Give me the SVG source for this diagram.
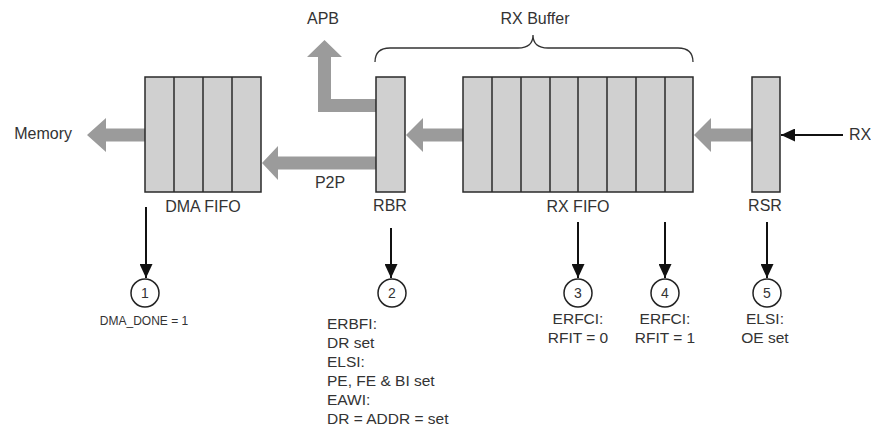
<svg xmlns="http://www.w3.org/2000/svg" width="871" height="429" viewBox="0 0 871 429">
<defs>
<style>
.box{fill:#d0d0d0;stroke:#2a2a2a;stroke-width:1.5}
.div{stroke:#2a2a2a;stroke-width:1.5}
.fat{fill:#9b9b9b}
.t{font-family:"Liberation Sans",Arial,sans-serif;font-size:16px;fill:#333}
.c{text-anchor:middle}
.b{font-family:"Liberation Sans",Arial,sans-serif;font-size:15.5px;fill:#333}
.num{font-family:"Liberation Sans",Arial,sans-serif;font-size:14px;fill:#333;text-anchor:middle}
.small{font-family:"Liberation Sans",Arial,sans-serif;font-size:12px;fill:#333;text-anchor:middle}
.thin{stroke:#111;stroke-width:2;fill:none}
.circ{fill:#fff;stroke:#222;stroke-width:1.5}
</style>
<marker id="ah" markerWidth="14" markerHeight="13" refX="14" refY="6.5" orient="auto" markerUnits="userSpaceOnUse">
<path d="M0,0 L14,6.5 L0,13 Z" fill="#111"/>
</marker>
</defs>
<rect width="871" height="429" fill="#fff"/>

<g id="connectors">
<!-- fat grey data arrows -->
<path class="fat" d="M87,135 L106,118 L106,128.5 L145,128.5 L145,141.5 L106,141.5 L106,152 Z"/>
<path class="fat" d="M262,163 L278,146 L278,156.5 L376,156.5 L376,169.5 L278,169.5 L278,180 Z"/>
<path class="fat" d="M406,135 L423,118 L423,128.5 L463,128.5 L463,141.5 L423,141.5 L423,152 Z"/>
<path class="fat" d="M694,135 L711,118 L711,128.5 L752,128.5 L752,141.5 L711,141.5 L711,152 Z"/>
<path class="fat" d="M324.5,40 L342,57 L331,57 L331,99 L376,99 L376,112 L318,112 L318,57 L307,57 Z"/>
<!-- RX input -->
<line class="thin" x1="843" y1="135" x2="781" y2="135" marker-end="url(#ah)"/>
<!-- interrupt arrows -->
<line class="thin" x1="146" y1="207" x2="146" y2="278" marker-end="url(#ah)"/>
<line class="thin" x1="391" y1="228" x2="391" y2="278" marker-end="url(#ah)"/>
<line class="thin" x1="578" y1="222" x2="578" y2="278" marker-end="url(#ah)"/>
<line class="thin" x1="665" y1="222" x2="665" y2="278" marker-end="url(#ah)"/>
<line class="thin" x1="767" y1="222" x2="767" y2="278" marker-end="url(#ah)"/>
</g>

<g id="rx-buffer-brace">
<path d="M375,62 Q375,48 390,48 L518,48 Q533,48 533,35 Q533,48 548,48 L678,48 Q693,48 693,62" fill="none" stroke="#333" stroke-width="1.3"/>
<text class="t c" x="535" y="24">RX Buffer</text>
</g>

<g id="apb"><text class="t c" x="323" y="24">APB</text></g>
<g id="memory"><text class="t" x="72" y="139" text-anchor="end">Memory</text></g>
<g id="p2p"><text class="t c" x="330" y="188">P2P</text></g>
<g id="rx"><text class="t" x="849" y="140">RX</text></g>

<g id="dma-fifo">
<rect class="box" x="145" y="77" width="116" height="115"/>
<line class="div" x1="174" y1="77" x2="174" y2="192"/>
<line class="div" x1="203" y1="77" x2="203" y2="192"/>
<line class="div" x1="232" y1="77" x2="232" y2="192"/>
<text class="t c" x="203" y="212">DMA FIFO</text>
</g>

<g id="rbr">
<rect class="box" x="376" y="77" width="29" height="115"/>
<text class="t c" x="390" y="211">RBR</text>
</g>

<g id="rx-fifo">
<rect class="box" x="463" y="77" width="230" height="115"/>
<line class="div" x1="492" y1="77" x2="492" y2="192"/>
<line class="div" x1="521" y1="77" x2="521" y2="192"/>
<line class="div" x1="550" y1="77" x2="550" y2="192"/>
<line class="div" x1="578" y1="77" x2="578" y2="192"/>
<line class="div" x1="607" y1="77" x2="607" y2="192"/>
<line class="div" x1="636" y1="77" x2="636" y2="192"/>
<line class="div" x1="665" y1="77" x2="665" y2="192"/>
<text class="t c" x="578" y="212">RX FIFO</text>
</g>

<g id="rsr">
<rect class="box" x="752" y="77" width="28" height="115"/>
<text class="t c" x="765" y="211">RSR</text>
</g>

<g id="event-1">
<circle class="circ" cx="145" cy="293" r="14"/>
<text class="num" x="145" y="298">1</text>
<text class="small" x="144" y="325">DMA_DONE = 1</text>
</g>

<g id="event-2">
<circle class="circ" cx="392" cy="293" r="14"/>
<text class="num" x="392" y="298">2</text>
<text class="b" x="327" y="329">ERBFI:</text>
<text class="b" x="327" y="348">DR set</text>
<text class="b" x="327" y="367">ELSI:</text>
<text class="b" x="327" y="386">PE, FE &amp; BI set</text>
<text class="b" x="327" y="405">EAWI:</text>
<text class="b" x="327" y="424">DR = ADDR = set</text>
</g>

<g id="event-3">
<circle class="circ" cx="578" cy="293" r="14"/>
<text class="num" x="578" y="298">3</text>
<text class="b c" x="578" y="324">ERFCI:</text>
<text class="b c" x="578" y="343">RFIT = 0</text>
</g>

<g id="event-4">
<circle class="circ" cx="665" cy="293" r="14"/>
<text class="num" x="665" y="298">4</text>
<text class="b c" x="665" y="324">ERFCI:</text>
<text class="b c" x="665" y="343">RFIT = 1</text>
</g>

<g id="event-5">
<circle class="circ" cx="767" cy="293" r="14"/>
<text class="num" x="767" y="298">5</text>
<text class="b c" x="765" y="324">ELSI:</text>
<text class="b c" x="765" y="343">OE set</text>
</g>
</svg>
